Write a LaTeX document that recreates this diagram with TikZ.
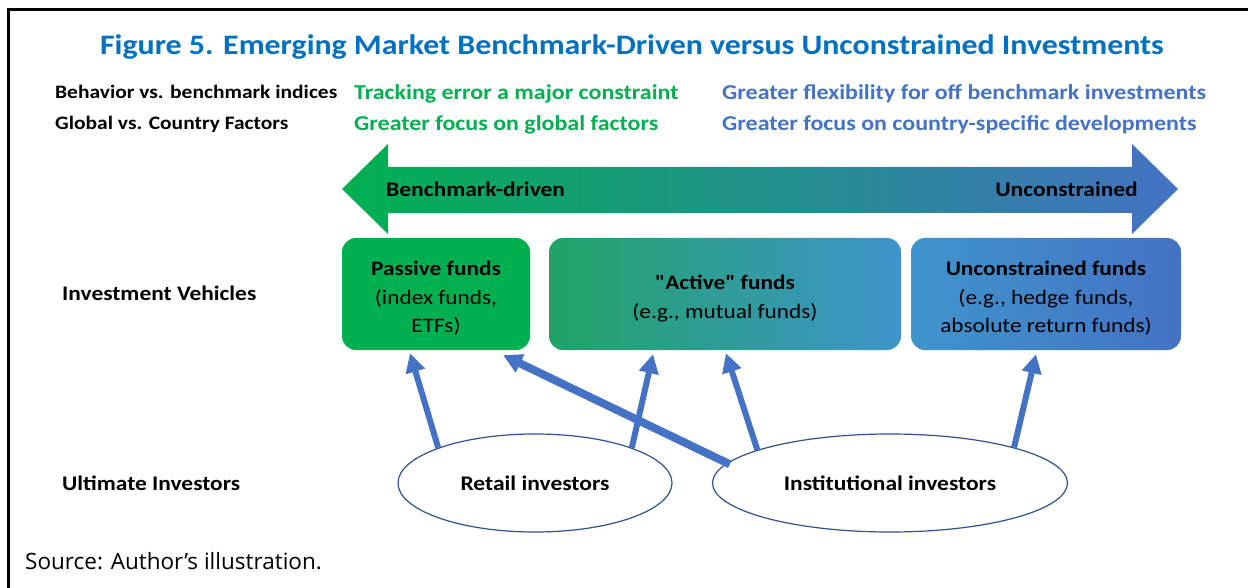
\documentclass[tikz,border=0pt]{standalone}
\usepackage{fontspec}
\setmainfont{Carlito}[FakeStretch=1.13,Ligatures=TeXOff]
\newfontfamily\srcfont{Open Sans}
\usetikzlibrary{calc,arrows.meta,shapes.geometric}
\definecolor{titleblue}{HTML}{0070C0}
\definecolor{ggreen}{HTML}{00B050}
\definecolor{gblue}{HTML}{4472C4}
\definecolor{gteal}{HTML}{1DA6A6}
\definecolor{gsky}{HTML}{3F94CC}
\definecolor{gmint}{HTML}{21A366}
\definecolor{edgeblue}{HTML}{2F528F}
\begin{document}
\begin{tikzpicture}[x=1pt,y=-1pt,
  rowlbl/.style={anchor=base west,inner sep=0pt,font=\fontsize{19}{22}\selectfont\bfseries},
  greentxt/.style={anchor=base west,inner sep=0pt,text=ggreen,font=\fontsize{21.2}{24}\selectfont\bfseries},
  bluetxt/.style={anchor=base west,inner sep=0pt,text=gblue,font=\fontsize{21.2}{24}\selectfont\bfseries},
  sidelbl/.style={anchor=base west,inner sep=0pt,font=\fontsize{20.7}{24}\selectfont\bfseries},
  fundbox/.style={rounded corners=14pt,minimum height=112pt,inner sep=0pt},
  fundtxt/.style={inner sep=0pt,align=center,font=\fontsize{20.6}{28.5}\selectfont},
  investor/.style={ellipse,draw=edgeblue,line width=1.2pt,fill=white,minimum height=98pt,
    inner sep=0pt,font=\fontsize{20.8}{24}\selectfont\bfseries},
  flow/.style={draw=gblue,line width=6pt,-{Triangle[length=19pt,width=19pt]}},
]
\useasboundingbox (0,0) rectangle (1248,588);
\fill[white] (0,0) rectangle (1248,588);
% frame
\draw[line width=3pt] (8.5,588) -- (8.5,10) -- (1248,10);

% title
\node[anchor=base,inner sep=0pt,text=titleblue,font=\fontsize{28.2}{32}\selectfont\bfseries]
  (title) at (632,55) {Figure 5. Emerging Market Benchmark-Driven versus Unconstrained Investments};

% header rows
\node[rowlbl] (r1) at (55,98.5) {Behavior vs. benchmark indices};
\node[rowlbl] (r2) at (55,129.5) {Global vs. Country Factors};
\node[greentxt] (g1) at (354,99.5) {Tracking error a major constraint};
\node[greentxt] (g2) at (354,130.5) {Greater focus on global factors};
\node[bluetxt] (b1) at (722,99.5) {Greater flexibility for off benchmark investments};
\node[bluetxt] (b2) at (722,130.5) {Greater focus on country-specific developments};

% double-headed spectrum arrow
\shade[left color=ggreen,right color=gblue]
  (342,189) -- (388,144) -- (388,167) -- (1132,167) -- (1132,144) -- (1178,189)
  -- (1132,234) -- (1132,213) -- (388,213) -- (388,234) -- cycle;
\node[anchor=base west,inner sep=0pt,font=\fontsize{20.8}{24}\selectfont\bfseries]
  (bd) at (386,197) {Benchmark-driven};
\node[anchor=base east,inner sep=0pt,font=\fontsize{20.8}{24}\selectfont\bfseries]
  (uc) at (1138,197) {Unconstrained};

% investment vehicles
\node[sidelbl] (iv) at (62,301) {Investment Vehicles};
\node[fundbox,fill=ggreen,minimum width=188pt] (passive) at (436,294) {};
\node[fundbox,left color=gmint,middle color=gteal,right color=gsky,minimum width=352pt]
  (active) at (725,294) {};
\node[fundbox,left color=gsky,right color=gblue,minimum width=270pt] (uncon) at (1046,294) {};
\node[fundtxt] (passiveTxt) at ($(passive.center)+(0,4.5)$)
  {\textbf{Passive funds}\\(index funds,\\ETFs)};
\node[fundtxt] (activeTxt) at ($(active.center)+(0,4.5)$)
  {\textbf{"Active" funds}\\(e.g., mutual funds)};
\node[fundtxt] (unconTxt) at ($(uncon.center)+(0,4.5)$)
  {\textbf{Unconstrained funds}\\(e.g., hedge funds,\\absolute return funds)};

% ultimate investors
\node[sidelbl] (ui) at (62,490) {Ultimate Investors};
\node[investor,minimum width=274pt] (retail) at (535,483) {Retail investors};
\node[investor,minimum width=355pt] (inst) at (890,483) {Institutional investors};

% arrow tips below the boxes
\coordinate (tPa) at ($(passive.south)+(-26,3)$);
\coordinate (tPb) at ($(passive.south)+(67,5)$);
\coordinate (tAa) at ($(active.south)+(-72,4)$);
\coordinate (tAb) at ($(active.south)+(1,3)$);
\coordinate (tU)  at ($(uncon.south)+(-10,4)$);

\draw[flow] (retail.160) -- (tPa);
\draw[flow] (retail.20) -- (tAa);
\draw[flow,line width=8pt,shorten <=-3pt] (inst.173) -- (tPb);
\draw[flow] (inst.166) -- (tAb);
\draw[flow] (inst.16) -- (tU);

% source line
\node[anchor=base west,inner sep=0pt,font=\srcfont\fontsize{22.5}{26}\selectfont]
  (src) at (25,569) {Source: Author’s illustration.};
\end{tikzpicture}
\end{document}
